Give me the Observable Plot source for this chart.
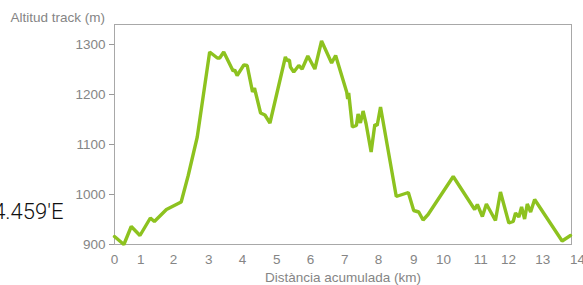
<!DOCTYPE html>
<html>
<head>
<meta charset="utf-8">
<script src="https://cdn.jsdelivr.net/npm/d3@7"></script>
<script src="https://cdn.jsdelivr.net/npm/@observablehq/plot@0.6"></script>
<style>
  html, body { margin: 0; padding: 0; background: #fff; overflow: hidden; }
</style>
</head>
<body>
<div id="chart"></div>
<script>
// Distance along the track (km)
const distKm = [0, 0.28, 0.50, 0.76, 1.07, 1.19, 1.55, 1.99, 2.20, 2.47, 2.84, 3.07, 3.14, 3.26, 3.54, 3.59, 3.66, 3.86, 3.96, 4.12, 4.18, 4.21, 4.36, 4.49, 4.64, 5.10, 5.15, 5.22, 5.25, 5.35, 5.50, 5.60, 5.77, 5.98, 6.18, 6.48, 6.60, 6.93, 6.96, 6.99, 7.10, 7.22, 7.27, 7.34, 7.42, 7.51, 7.66, 7.77, 7.84, 7.94, 8.41, 8.77, 8.93, 9.08, 9.21, 9.36, 10.11, 10.75, 10.83, 10.98, 11.10, 11.37, 11.52, 11.77, 11.90, 11.97, 12.07, 12.15, 12.24, 12.32, 12.42, 12.54, 13.36, 13.61];
// Altitude (m)
const altitudeM = [916, 900, 936, 918, 953, 946, 970, 985, 1038, 1115, 1285, 1273, 1273, 1285, 1247, 1249, 1238, 1259, 1258, 1205, 1213, 1204, 1163, 1159, 1143, 1275, 1268, 1269, 1255, 1245, 1258, 1251, 1277, 1251, 1307, 1263, 1278, 1205, 1191, 1203, 1135, 1138, 1161, 1143, 1167, 1141, 1085, 1140, 1138, 1175, 996, 1004, 968, 965, 949, 960, 1036, 970, 980, 956, 981, 948, 1005, 943, 946, 963, 955, 975, 951, 981, 965, 990, 907, 918];
// X tick labels and where they sit along the track (km)
const xTickKm = [0, 0.78, 1.76, 2.81, 3.82, 4.84, 5.85, 6.87, 7.88, 8.93, 9.82, 10.93, 11.76, 12.78, 13.82];
const xTickLabels = ["0", "1", "2", "3", "4", "5", "6", "7", "8", "9", "10", "11", "12", "13", "14"];
const yTicks = [900, 1000, 1100, 1200, 1300];
const titleText = "Altitud track (m)";
const xLabelText = "Distància acumulada (km)";
const coordText = "4.459′E";

const data = distKm.map((d, i) => ({d, alt: altitudeM[i]}));
const gray = "#858585";

const chart = Plot.plot({
  width: 583,
  height: 285,
  marginLeft: 114,
  marginRight: 12,
  marginTop: 24,
  marginBottom: 41,
  style: {fontFamily: "'Liberation Sans', Arial, sans-serif", fontSize: "13px", background: "#fff", overflow: "visible"},
  x: {domain: [0, 13.64], axis: null},
  y: {domain: [900, 1340], axis: null},
  marks: [
    Plot.frame({stroke: "#a8a8a8"}),
    Plot.axisY({ticks: yTicks, tickFormat: d => String(d), tickSize: 5, tickPadding: 4, label: null, stroke: "#999", fill: gray, fontSize: 13.5}),
    Plot.text(xTickKm, {x: d => d, text: (d, i) => xTickLabels[i], frameAnchor: "bottom", lineAnchor: "bottom", dy: 19, fill: gray, fontSize: 13.5}),
    Plot.line(data, {x: "d", y: "alt", stroke: "#8dc21f", strokeWidth: 3.4, strokeLinejoin: "miter"}),
    Plot.text([titleText], {frameAnchor: "top-left", dx: -104, dy: -3, textAnchor: "start", lineAnchor: "bottom", fill: gray, fontSize: 13.5}),
    Plot.text([xLabelText], {frameAnchor: "bottom", dy: 37, lineAnchor: "bottom", fill: gray, fontSize: 13.5}),
    Plot.text([coordText], {frameAnchor: "bottom-left", dx: -51, dy: -26, textAnchor: "end", lineAnchor: "bottom", fill: "#111", fontSize: 22, fontFamily: "Roboto", fontWeight: 300})
  ]
});
document.getElementById("chart").append(chart);
</script>
</body>
</html>
